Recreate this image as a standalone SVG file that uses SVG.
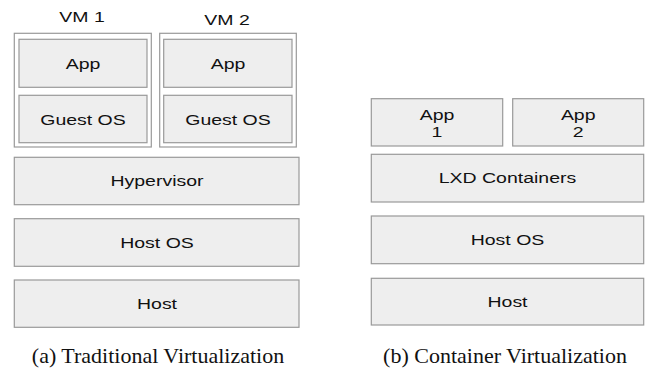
<svg xmlns="http://www.w3.org/2000/svg" width="645" height="368" viewBox="0 0 645 368">
<style>
.box{fill:#eeeeee;stroke:#999999;stroke-width:1.2}
.vm{fill:#ffffff;stroke:#999999;stroke-width:1.2}
.t{font-family:"Liberation Sans",Arial,sans-serif;font-size:15px;fill:#111;text-anchor:middle}
.cap{font-family:"Liberation Serif","Times New Roman",serif;font-size:20px;fill:#111;text-anchor:middle}
</style>
<rect width="645" height="368" fill="#ffffff"/>
<g id="vm1">
<rect class="vm" x="14.3" y="33.3" width="137" height="113.7"/>
<text class="t" transform="translate(82,22.3) scale(1.3,1)">VM 1</text>
</g>
<g id="vm2">
<rect class="vm" x="159.7" y="33.3" width="136.6" height="113.7"/>
<text class="t" transform="translate(227,25) scale(1.3,1)">VM 2</text>
</g>
<g id="app-vm1">
<rect class="box" x="19" y="39.3" width="128" height="48"/>
<text class="t" transform="translate(83,68.6) scale(1.3,1)">App</text>
</g>
<g id="guest-vm1">
<rect class="box" x="19" y="95.3" width="128" height="47.4"/>
<text class="t" transform="translate(83,124.8) scale(1.3,1)">Guest OS</text>
</g>
<g id="app-vm2">
<rect class="box" x="163.7" y="39.3" width="128.3" height="48"/>
<text class="t" transform="translate(228,68.6) scale(1.3,1)">App</text>
</g>
<g id="guest-vm2">
<rect class="box" x="163.7" y="95.3" width="128.3" height="47.4"/>
<text class="t" transform="translate(228,124.8) scale(1.3,1)">Guest OS</text>
</g>
<g id="hypervisor">
<rect class="box" x="14.3" y="157.3" width="284.7" height="47.4"/>
<text class="t" transform="translate(157,186.2) scale(1.3,1)">Hypervisor</text>
</g>
<g id="hostos-a">
<rect class="box" x="14.3" y="218.7" width="284.7" height="47.6"/>
<text class="t" transform="translate(157,247.8) scale(1.3,1)">Host OS</text>
</g>
<g id="host-a">
<rect class="box" x="14.3" y="280" width="284.7" height="47.3"/>
<text class="t" transform="translate(157,309) scale(1.3,1)">Host</text>
</g>
<g id="app1">
<rect class="box" x="371.3" y="98.7" width="131.4" height="47.3"/>
<text class="t" transform="translate(437,119.8) scale(1.3,1)">App</text>
<text class="t" transform="translate(437,137) scale(1.3,1)">1</text>
</g>
<g id="app2">
<rect class="box" x="512.7" y="98.7" width="131" height="47.3"/>
<text class="t" transform="translate(578.2,119.8) scale(1.3,1)">App</text>
<text class="t" transform="translate(578.2,137) scale(1.3,1)">2</text>
</g>
<g id="lxd">
<rect class="box" x="371.3" y="154.3" width="272.4" height="47.7"/>
<text class="t" transform="translate(507.5,183.4) scale(1.3,1)">LXD Containers</text>
</g>
<g id="hostos-b">
<rect class="box" x="371.3" y="216" width="272.4" height="47.7"/>
<text class="t" transform="translate(507.5,245) scale(1.3,1)">Host OS</text>
</g>
<g id="host-b">
<rect class="box" x="371.3" y="278.3" width="272.4" height="46.7"/>
<text class="t" transform="translate(507.5,306.9) scale(1.3,1)">Host</text>
</g>
<g id="captions">
<text class="cap" transform="translate(158,363) scale(1.1,1)">(a) Traditional Virtualization</text>
<text class="cap" transform="translate(505,363) scale(1.1,1)">(b) Container Virtualization</text>
</g>
<g id="connectors"></g>
</svg>
